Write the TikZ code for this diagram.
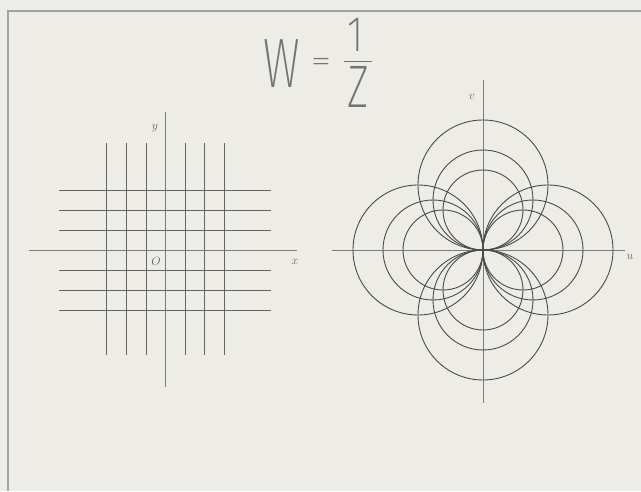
\documentclass[tikz,border=0pt]{standalone}
\usepackage{fontspec}
\newfontfamily\thinfont{Fira Sans}[UprightFont={* ExtraLight}]
\usetikzlibrary{positioning}
\definecolor{paper}{RGB}{237,236,231}
\definecolor{ink}{RGB}{100,100,98}

\begin{document}
\begin{tikzpicture}[x=1pt,y=1pt,
  gridline/.style={ink,line width=0.8pt},
  axis/.style={ink!85,line width=0.6pt},
  imgcircle/.style={ink!75!black,line width=0.9pt},
  lbl/.style={text=ink,inner sep=0pt,font=\large},
  title/.style={text=ink!90,inner sep=0pt}]
  \fill[paper] (0,0) rectangle (641,491);
  \useasboundingbox (0,0) rectangle (641,491);
  % frame of the sheet
  \draw[ink!60,line width=1.1pt] (641,480) -- (8,480) -- (8,0);

  % title
  \node[title,font=\thinfont\fontsize{70}{70}\selectfont,xscale=0.65] (w) at (282,427) {W};
  \node[title,font=\thinfont\fontsize{50}{50}\selectfont,xscale=0.85,yscale=0.6] (eq) at (321,426) {=};
  \node[title,font=\thinfont\fontsize{50}{50}\selectfont,xscale=0.8] (one) at (356,456) {1};
  \node[title,font=\thinfont\fontsize{60}{60}\selectfont,xscale=0.7] (z) at (358,404) {Z};
  \draw[ink!90,line width=0.9pt] (344,430) -- (372,430);

  % z-plane: lines x = const and y = const
  \foreach \d in {-60,-40,-20,20,40,60}
    \draw[gridline] (59,241+\d) -- (271,241+\d);
  \foreach \d in {-59,-39,-19,20,39,59}
    \draw[gridline] (165+\d,136) -- (165+\d,348);
  \draw[axis] (29,241) -- (297,241);
  \draw[axis] (165,104) -- (165,379);
  \node[lbl] (ylbl) at (155,363) {$y$};
  \node[lbl] (olbl) at (156,230) {$O$};
  \node[lbl] (xlbl) at (295,229) {$x$};

  % w-plane: their images, circles through the origin
  \draw[axis] (332,241) -- (625,241);
  \draw[axis] (483,88) -- (483,411);
  \foreach \r in {40,50,65} {
    \draw[imgcircle] (483+\r,241) circle (\r);
    \draw[imgcircle] (483-\r,241) circle (\r);
    \draw[imgcircle] (483,241+\r) circle (\r);
    \draw[imgcircle] (483,241-\r) circle (\r);
  }
  \node[lbl] (vlbl) at (472,394) {$v$};
  \node[lbl] (ulbl) at (630,234) {$u$};
\end{tikzpicture}
\end{document}
